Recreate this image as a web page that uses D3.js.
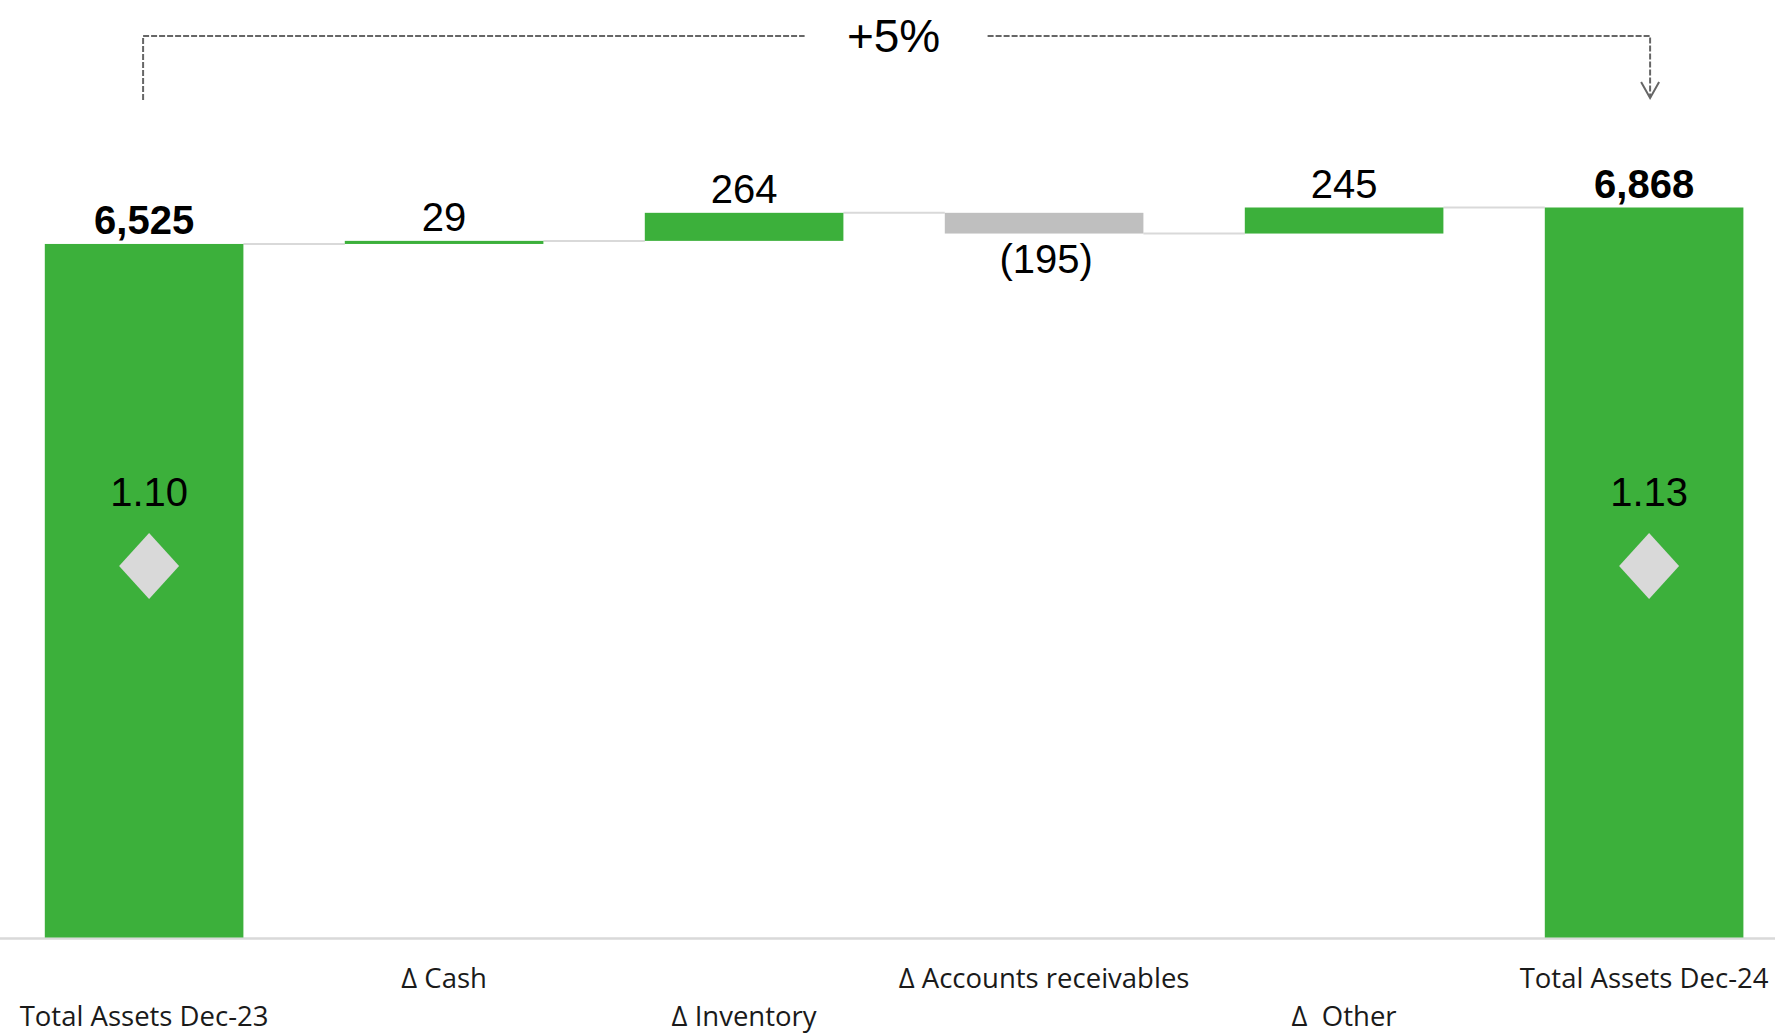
<!DOCTYPE html>
<html>
<head>
<meta charset="utf-8">
<script src="https://cdn.jsdelivr.net/npm/d3@7"></script>
<style>
  html, body { margin: 0; padding: 0; background: #fff; }
  svg { display: block; }
</style>
</head>
<body>
<svg id="chart" width="1775" height="1034"></svg>
<script>
// data
var categories = ["Total Assets Dec-23", "\u0394 Cash", "\u0394 Inventory", "\u0394 Accounts receivables", "\u0394  Other", "Total Assets Dec-24"];
var values = [6525, 29, 264, -195, 245, 6868];
var isTotal = [true, false, false, false, false, true];
var valueLabels = ["6,525", "29", "264", "(195)", "245", "6,868"];
var ratioLabels = ["1.10", null, null, null, null, "1.13"];
var changeLabel = "+5%";

var width = 1775, height = 1034;
var green = "#3cb03b", grey = "#bfbfbf", light = "#d9d9d9";

var svg = d3.select("#chart");

// running totals -> start/end of each bar
var running = 0;
var bars = categories.map(function (c, i) {
    var start, end;
    if (isTotal[i]) { start = 0; end = values[i]; running = values[i]; }
    else { start = running; end = running + values[i]; running = end; }
    return { cat: c, i: i, start: start, end: end, value: values[i], label: valueLabels[i], ratio: ratioLabels[i] };
});

var x = d3.scaleBand()
    .domain(categories)
    .range([14.8, 1773.4])
    .paddingInner(0.338)
    .paddingOuter(0.1);

var y = d3.scaleLinear()
    .domain([0, d3.max(values)])
    .range([937.5, 207.5]);

// baseline
svg.append("line")
    .attr("x1", 0).attr("x2", width)
    .attr("y1", y(0) + 1).attr("y2", y(0) + 1)
    .attr("stroke", light).attr("stroke-width", 2.5);

// connectors
svg.append("g").selectAll("line")
    .data(bars.slice(0, -1))
    .join("line")
    .attr("x1", function (d) { return x(d.cat) + x.bandwidth(); })
    .attr("x2", function (d) { return x(categories[d.i + 1]); })
    .attr("y1", function (d) { return y(d.end); })
    .attr("y2", function (d) { return y(d.end); })
    .attr("stroke", light).attr("stroke-width", 2);

// bars
svg.append("g").selectAll("rect")
    .data(bars)
    .join("rect")
    .attr("x", function (d) { return x(d.cat); })
    .attr("width", x.bandwidth())
    .attr("y", function (d) { return y(Math.max(d.start, d.end)); })
    .attr("height", function (d) { return Math.abs(y(d.start) - y(d.end)); })
    .attr("fill", function (d) { return d.value < 0 ? grey : green; });

// value labels
svg.append("g").selectAll("text")
    .data(bars)
    .join("text")
    .attr("x", function (d) { return x(d.cat) + x.bandwidth() / 2 + (d.value < 0 ? 2 : 0); })
    .attr("y", function (d) {
        return d.value < 0 ? y(d.end) + 39 : y(Math.max(d.start, d.end)) - 10;
    })
    .attr("text-anchor", "middle")
    .style("font-family", "'Liberation Sans', Arial, sans-serif")
    .style("font-size", "40px")
    .style("font-weight", function (d) { return isTotal[d.i] ? "bold" : "normal"; })
    .attr("fill", "#000")
    .text(function (d) { return d.label; });

// ratio labels + diamonds inside total bars
var ratioBars = bars.filter(function (d) { return d.ratio; });
svg.append("g").selectAll("text")
    .data(ratioBars)
    .join("text")
    .attr("x", function (d) { return x(d.cat) + x.bandwidth() / 2 + 5; })
    .attr("y", 505.5)
    .attr("text-anchor", "middle")
    .style("font-family", "'Liberation Sans', Arial, sans-serif")
    .style("font-size", "40px")
    .attr("fill", "#000")
    .text(function (d) { return d.ratio; });

svg.append("g").selectAll("path")
    .data(ratioBars)
    .join("path")
    .attr("transform", function (d) { return "translate(" + (x(d.cat) + x.bandwidth() / 2 + 5) + ",566)"; })
    .attr("d", "M0,-33L30,0L0,33L-30,0Z")
    .attr("fill", "#d9d9d9");

// category labels, staggered in two rows
svg.append("g").selectAll("text")
    .data(bars)
    .join("text")
    .attr("x", function (d) { return x(d.cat) + x.bandwidth() / 2; })
    .attr("y", function (d) { return d.i % 2 === 0 ? 1026 : 988; })
    .attr("text-anchor", "middle")
    .style("font-family", "'Open Sans', 'Noto Sans', sans-serif")
    .style("font-size", "27.5px")
    .style("white-space", "pre")
    .attr("fill", "#1a1a1a")
    .text(function (d) { return d.cat; });

// change bracket
var first = bars[0], last = bars[bars.length - 1];
var xl = x(first.cat) + x.bandwidth() / 2 - 1,
    xr = x(last.cat) + x.bandwidth() / 2 + 6,
    yTop = 36, xm = (xl + xr) / 2;

var dash = { stroke: "#666", "stroke-width": 2, "stroke-dasharray": "6,2", fill: "none" };
function dashed(sel) { Object.keys(dash).forEach(function (k) { sel.attr(k, dash[k]); }); return sel; }

dashed(svg.append("path").attr("d", "M" + xl + ",100V" + yTop + "H" + (xm - 92)));
dashed(svg.append("path").attr("d", "M" + (xm + 91) + "," + yTop + "H" + xr + "V98"));
svg.append("path")
    .attr("d", "M" + (xr - 9) + ",82L" + xr + ",98L" + (xr + 9) + ",82")
    .attr("stroke", "#666").attr("stroke-width", 2).attr("fill", "none");

svg.append("text")
    .attr("x", xm - 3)
    .attr("y", 51.5)
    .attr("text-anchor", "middle")
    .style("font-family", "'Liberation Sans', Arial, sans-serif")
    .style("font-size", "46px")
    .attr("fill", "#000")
    .text(changeLabel);
</script>
</body>
</html>
